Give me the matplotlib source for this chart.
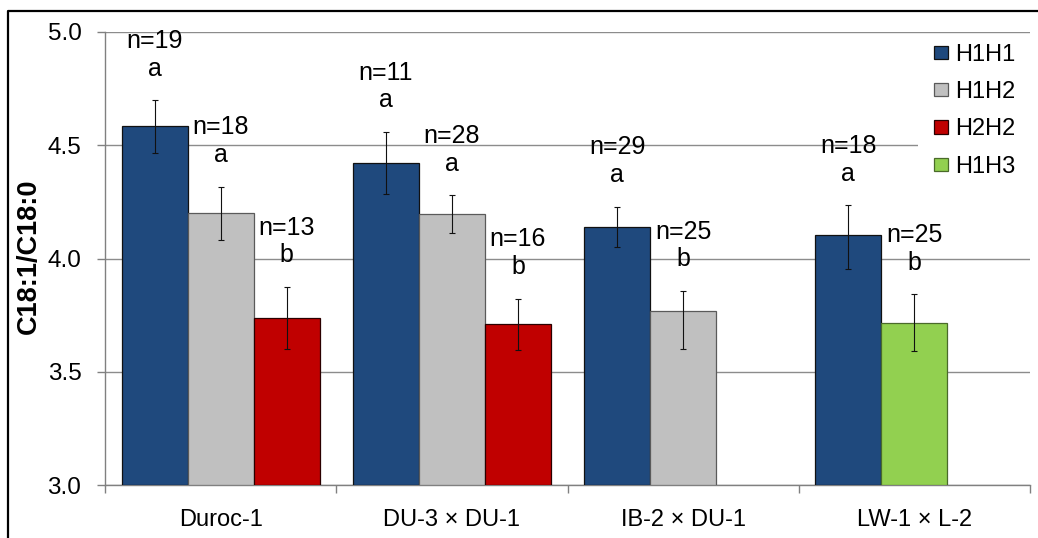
import numpy as np
import matplotlib
matplotlib.use("Agg")
import matplotlib.pyplot as plt
from matplotlib.lines import Line2D
from matplotlib.patches import Rectangle, Patch

plt.rcParams['font.family'] = ['Liberation Sans', 'DejaVu Sans']

# data
groups = ['Duroc-1', 'DU-3 × DU-1', 'IB-2 × DU-1', 'LW-1 × L-2']
series = ['H1H1', 'H1H2', 'H2H2', 'H1H3']

h1h1 = [4.586, 4.423, 4.139, 4.102]
h1h2 = [4.200, 4.195, 3.767, np.nan]
h2h2 = [3.739, 3.711, np.nan, np.nan]
h1h3 = [np.nan, np.nan, np.nan, 3.715]

# error bars (lower, upper) as drawn
h1h1_lo = [0.122, 0.138, 0.088, 0.147]
h1h1_hi = [0.113, 0.136, 0.090, 0.134]
h1h2_lo = [0.119, 0.083, 0.168, np.nan]
h1h2_hi = [0.117, 0.085, 0.090, np.nan]
h2h2_lo = [0.140, 0.115, np.nan, np.nan]
h2h2_hi = [0.136, 0.112, np.nan, np.nan]
h1h3_lo = [np.nan, np.nan, np.nan, 0.124]
h1h3_hi = [np.nan, np.nan, np.nan, 0.127]

h1h1_n = ['n=19', 'n=11', 'n=29', 'n=18']
h1h2_n = ['n=18', 'n=28', 'n=25', '']
h2h2_n = ['n=13', 'n=16', '', '']
h1h3_n = ['', '', '', 'n=25']

h1h1_sig = ['a', 'a', 'a', 'a']
h1h2_sig = ['a', 'a', 'b', '']
h2h2_sig = ['b', 'b', '', '']
h1h3_sig = ['', '', '', 'b']

# styling
colors = {'H1H1': '#1F497D', 'H1H2': '#C0C0C0', 'H2H2': '#C00000', 'H1H3': '#92D050'}
edges = {'H1H1': '#111111', 'H1H2': '#5a5a5a', 'H2H2': '#2a0000', 'H1H3': '#4a6a2a'}
slot = {'H1H1': 0, 'H1H2': 1, 'H2H2': 2, 'H1H3': 1}
vals = {'H1H1': h1h1, 'H1H2': h1h2, 'H2H2': h2h2, 'H1H3': h1h3}
lows = {'H1H1': h1h1_lo, 'H1H2': h1h2_lo, 'H2H2': h2h2_lo, 'H1H3': h1h3_lo}
highs = {'H1H1': h1h1_hi, 'H1H2': h1h2_hi, 'H2H2': h2h2_hi, 'H1H3': h1h3_hi}
ns = {'H1H1': h1h1_n, 'H1H2': h1h2_n, 'H2H2': h2h2_n, 'H1H3': h1h3_n}
sigs = {'H1H1': h1h1_sig, 'H1H2': h1h2_sig, 'H2H2': h2h2_sig, 'H1H3': h1h3_sig}

W, H = 1038, 538
fig = plt.figure(figsize=(W/100, H/100), dpi=100)
ax = fig.add_axes([105/W, (H-485)/H, 925/W, 453/H])

x = np.arange(len(groups))
bw = 2/7

for s in series:
    v = np.array(vals[s], dtype=float)
    lo = np.array(lows[s], dtype=float)
    hi = np.array(highs[s], dtype=float)
    pos = x + (slot[s]-1)*bw
    ok = ~np.isnan(v)
    ax.bar(pos[ok], v[ok]-3.0, bottom=3.0, width=bw, color=colors[s],
           edgecolor=edges[s], linewidth=0.9, zorder=3, label=s)
    ax.errorbar(pos[ok], v[ok], yerr=[lo[ok], hi[ok]], fmt='none',
                ecolor='#111111', elinewidth=0.8, capsize=2.5, capthick=0.8,
                zorder=4)
    for i in np.where(ok)[0]:
        ax.annotate(ns[s][i] + '\n' + sigs[s][i], (pos[i], v[i]+hi[i]),
                    xytext=(0, 14), textcoords='offset points',
                    ha='center', va='bottom', fontsize=18,
                    linespacing=1.2, zorder=5)

ax.set_xlim(-0.5, len(groups)-0.5)
ax.set_ylim(3.0, 5.0)
ax.set_yticks([3.0, 3.5, 4.0, 4.5, 5.0])
ax.set_yticklabels(['3.0', '3.5', '4.0', '4.5', '5.0'])
ax.set_xticks(x)
ax.set_xticklabels(groups)
ax.set_xticks(np.arange(len(groups)+1)-0.5, minor=True)
ax.tick_params(axis='x', which='major', length=0, pad=17, labelsize=17)
ax.tick_params(axis='x', which='minor', length=6, width=1, color='#808080')
ax.tick_params(axis='y', length=6, width=1, color='#808080', pad=11,
               labelsize=17.5)

ax.set_axisbelow(True)
ax.yaxis.grid(True, color='#8c8c8c', linewidth=1)
for sp in ['top', 'right']:
    ax.spines[sp].set_visible(False)
for sp in ['left', 'bottom']:
    ax.spines[sp].set_color('#808080')
    ax.spines[sp].set_linewidth(1)

ax.set_ylabel('C18:1/C18:0', fontsize=19.5, fontweight='bold')
ax.yaxis.set_label_coords(-0.068, 0.504)

# white legend area hiding the gridline behind it
ax.add_patch(Rectangle((0.879, 0.6), 0.121, 0.37, transform=ax.transAxes,
                       facecolor='white', edgecolor='none', zorder=1))

handles = [Patch(facecolor=colors[s], edgecolor=edges[s], linewidth=0.9)
           for s in series]
ax.legend(handles, series, loc='upper left', bbox_to_anchor=(0.896, 0.974),
          frameon=False, fontsize=17, handlelength=0.59, handleheight=0.5,
          handletextpad=0.3, labelspacing=0.65, borderaxespad=0, borderpad=0)

# outer frame (cut on the right and bottom)
fig.add_artist(Line2D([8/W, 8/W, 1], [0, 1-11/H, 1-11/H], color='black',
                      linewidth=1.6, transform=fig.transFigure))

fig.savefig('out.png', dpi=100)
